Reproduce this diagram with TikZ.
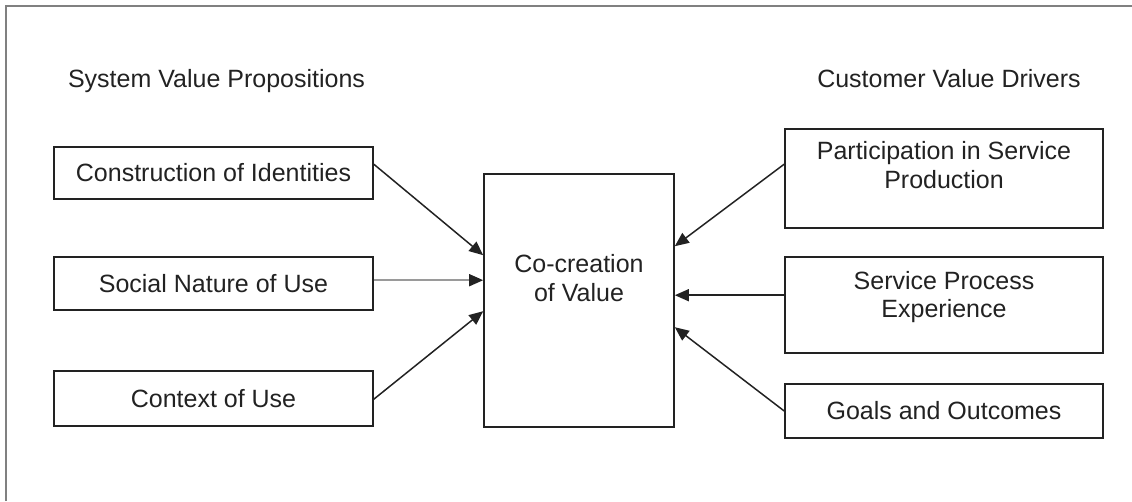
\documentclass[tikz,border=0pt]{standalone}
\usepackage{fontspec}
\setmainfont{Liberation Sans}
\usetikzlibrary{arrows.meta,calc}
\definecolor{ink}{HTML}{222222}
\definecolor{framegray}{HTML}{808080}
\definecolor{linkgray}{HTML}{9A9A9A}
\begin{document}
\begin{tikzpicture}[x=1pt,y=-1pt,
  txt/.style={text=ink,font=\fontsize{25}{28.5}\selectfont,align=center,inner sep=0pt},
  box/.style={draw=ink,line width=1.6pt,inner sep=0pt},
  link/.style={draw=ink,line width=1.5pt,-{Triangle[length=14pt,width=12pt,color=ink]}},
  greylink/.style={link,draw=linkgray}]
\useasboundingbox (0,0) rectangle (1132,501);
% page frame (top and left edges)
\draw[framegray,line width=1.5pt] (6,501) -- (6,6) -- (1132,6);

% column headings
\node[txt] (lefthead) at (216.5,81) {System Value Propositions};
\node[txt] (righthead) at (949,78.5) {Customer Value Drivers};

% system value propositions
\node[box,txt,minimum width=319pt,minimum height=52pt] (cons) at (213.5,173) {Construction of Identities};
\node[box,txt,minimum width=319pt,minimum height=53pt] (soc) at (213.5,283.5) {Social Nature of Use};
\node[box,txt,minimum width=319pt,minimum height=55pt] (ctx) at (213.5,398.5) {Context of Use};

% central box
\node[box,minimum width=190pt,minimum height=253pt] (co) at (579,300.5) {};
\node[txt] (cotext) at (579,278) {Co-creation\\of Value};

% customer value drivers
\node[box,minimum width=318pt,minimum height=99pt] (part) at (944,178.5) {};
\node[txt] (parttext) at (944,165) {Participation in Service\\Production};
\node[box,minimum width=318pt,minimum height=96pt] (svc) at (944,305) {};
\node[txt] (svctext) at (944,297) {Service Process\\Experience};
\node[box,txt,minimum width=318pt,minimum height=54pt] (goal) at (944,411) {Goals and Outcomes};

% connectors into the central box
\draw[link] ($(cons.north east)+(0,18)$) -- ($(co.north west)+(0,82)$);
\draw[greylink] ($(soc.north east)+(0,24)$) -- ($(co.north west)+(0,107)$);
\draw[link] ($(ctx.north east)+(0,29)$) -- ($(co.north west)+(0,138)$);
\draw[link] ($(part.north west)+(0,36)$) -- ($(co.north east)+(0,73)$);
\draw[link] ($(svc.north west)+(0,39)$) -- ($(co.north east)+(0,122)$);
\draw[link] (goal.west) -- ($(co.north east)+(0,154)$);
\end{tikzpicture}
\end{document}
